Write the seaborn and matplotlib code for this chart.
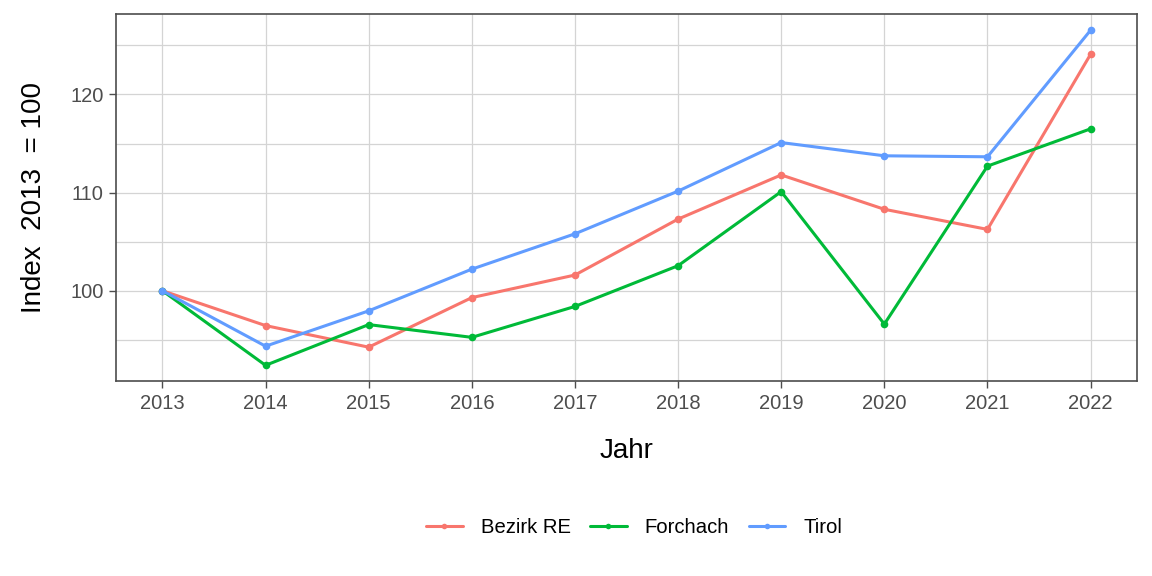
import numpy as np
import pandas as pd
import matplotlib
matplotlib.use("Agg")
import matplotlib.pyplot as plt
from matplotlib.ticker import MultipleLocator
import seaborn as sns

years = [2013, 2014, 2015, 2016, 2017, 2018, 2019, 2020, 2021, 2022]
bezirk_re = [100.0, 96.45, 94.25, 99.3, 101.6, 107.3, 111.8, 108.3, 106.25, 124.1]
forchach = [100.0, 92.4, 96.55, 95.25, 98.4, 102.55, 110.1, 96.6, 112.7, 116.5]
tirol = [100.0, 94.35, 97.95, 102.2, 105.8, 110.15, 115.1, 113.75, 113.65, 126.55]
regions = ["Bezirk RE", "Forchach", "Tirol"]
colors = ["#F8766D", "#00BA38", "#619CFF"]

df = pd.DataFrame({
    "Jahr": years * 3,
    "Index": bezirk_re + forchach + tirol,
    "Region": [r for r in regions for _ in years],
})

sns.set_theme(style="white")
plt.rcParams["font.family"] = ["Liberation Sans", "DejaVu Sans"]

fig = plt.figure(figsize=(11.52, 5.76), dpi=100)
ax = fig.add_axes([0.1007, 0.3385, 0.8863, 0.6372])

sns.lineplot(data=df, x="Jahr", y="Index", hue="Region", hue_order=regions,
             palette=colors, marker="o", markersize=5.5, markeredgewidth=0,
             linewidth=2.2, ax=ax, legend=True, zorder=3)

ax.set_xlim(2012.55, 2022.45)
ax.set_ylim(90.8, 128.2)
ax.set_xticks(years)
ax.set_xticklabels([str(y) for y in years])
ax.set_yticks([100, 110, 120])
ax.yaxis.set_minor_locator(MultipleLocator(5))
ax.grid(True, which="major", color="#D4D4D4", linewidth=0.9, zorder=0)
ax.grid(True, which="minor", axis="y", color="#D4D4D4", linewidth=0.9, zorder=0)
ax.set_axisbelow(True)
for s in ax.spines.values():
    s.set_color("#4D4D4D")
    s.set_linewidth(1.2)
ax.tick_params(axis="both", which="major", direction="out", length=5, width=1,
               color="#4D4D4D", labelcolor="#4D4D4D", labelsize=14.5, pad=4,
               bottom=True, left=True)
ax.tick_params(axis="y", which="minor", length=0)

ax.set_xlabel("Jahr", fontsize=20, color="black", labelpad=18)
ax.set_ylabel("Index  2013  = 100", fontsize=20, color="black", labelpad=17)

handles, labels = ax.get_legend_handles_labels()
for h in handles:
    h.set_markersize(4)
leg = ax.legend(handles=handles, labels=labels, loc="center", bbox_to_anchor=(0.5505, 0.0835),
                bbox_transform=fig.transFigure, ncol=3, frameon=False, fontsize=14.6,
                handlelength=1.8, handletextpad=0.9, columnspacing=0.95, title=None)
for t in leg.get_texts():
    t.set_color("black")

fig.savefig("out.png", dpi=100)
